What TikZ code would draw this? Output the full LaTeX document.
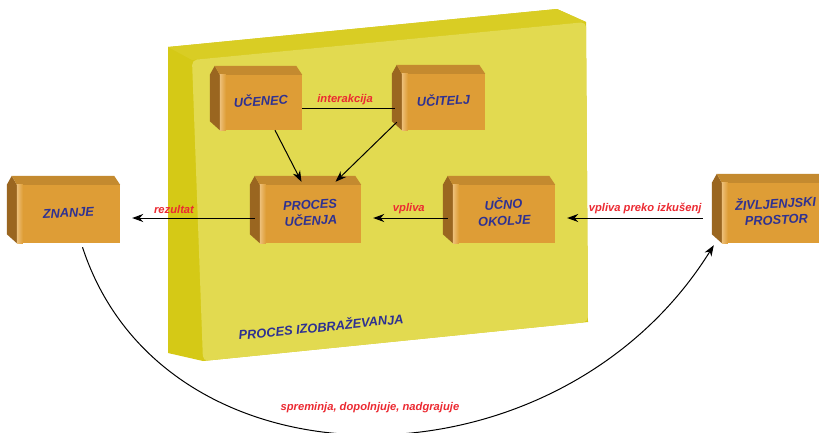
\documentclass[tikz,border=0pt]{standalone}
\usepackage{fontspec}
\setmainfont{Liberation Sans}
\usepackage{graphicx}
\usetikzlibrary{arrows.meta,calc}
\definecolor{slabface}{HTML}{E2DA50}
\definecolor{slabside}{HTML}{D5C916}
\definecolor{slabtop}{HTML}{D9CD24}
\definecolor{brickfront}{HTML}{DE9D36}
\definecolor{bricktop}{HTML}{C48A2F}
\definecolor{brickleft}{HTML}{9A6620}
\definecolor{brickhi}{HTML}{EDC07A}
\definecolor{lblblue}{HTML}{2E3192}
\definecolor{lblred}{HTML}{EC2A32}
\tikzset{
  brick/.style 2 args={fill=brickfront, minimum width=#1, minimum height=#2,
              inner sep=0pt, align=center, text=lblblue,
              font=\fontsize{12.8}{16}\selectfont\bfseries\itshape},
  slablbl/.style={font=\fontsize{12.8}{16}\selectfont\bfseries\itshape,
              text=lblblue, inner sep=0pt},
  elbl/.style={font=\fontsize{11.2}{13}\selectfont\bfseries\itshape,
              text=lblred, inner sep=1pt},
  link/.style={line width=1pt, draw=black},
  arr/.style={-{Stealth[length=11pt,width=8pt,inset=3.5pt]}, line width=1pt,
              draw=black},
}
\newcommand{\tiltlbl}[1]{\rotatebox{3}{\begin{tabular}{@{}c@{}}#1\end{tabular}}}

\begin{document}
\begin{tikzpicture}[x=1pt,y=-1pt]
\fill[white] (0,0) rectangle (819,432);
\useasboundingbox (0,0) rectangle (819,432);

% ---------- the slab ----------------------------------------------------
\fill[slabside] (168,47) -- (557,9) -- (586,22) -- (588,322) -- (203,361)
   -- (168,353) -- cycle;
\fill[slabtop] (168,47) -- (557,9) -- (586,22) -- (192,60) -- cycle;
\fill[slabface, rounded corners=5pt] (192,60) -- (586,22) -- (588,322)
   -- (203,361) -- cycle;
\node[slablbl, rotate=5.7] (izob) at (321,326) {PROCES IZOBRAŽEVANJA};

% ---------- bricks ------------------------------------------------------
\node[brick={82pt}{55pt}] (ucenec) at (261,102.5) {\tiltlbl{UČENEC}};
\node[brick={83pt}{56pt}] (ucitelj) at (443.5,102) {\tiltlbl{UČITELJ}};
\node[brick={101pt}{58pt}] (proces) at (310.5,214) {\tiltlbl{PROCES\\UČENJA}};
\node[brick={102pt}{58pt}] (okolje) at (504,214) {\tiltlbl{UČNO\\OKOLJE}};
\node[brick={103pt}{58pt}] (znanje) at (68.5,214) {\tiltlbl{ZNANJE}};
\node[brick={108pt}{60pt}] (prostor) at (776,213) {\tiltlbl{ŽIVLJENJSKI\\PROSTOR}};

\foreach \n in {ucenec,ucitelj,proces,okolje,znanje,prostor}{
  \fill[brickleft] (\n.north west) -- (\n.south west) -- ++(-10,-9)
     -- ($(\n.north west)+(-10,0)$) -- ($(\n.north west)+(-5,-9)$) -- cycle;
  \fill[bricktop] (\n.north west) -- ($(\n.north west)+(-5,-9)$)
     -- ($(\n.north east)+(-6,-9)$) -- (\n.north east) -- cycle;
  \shade[left color=brickhi, right color=brickfront]
     (\n.north west) rectangle ([xshift=6pt]\n.south west);
}

% ---------- connectors --------------------------------------------------
\draw[link, shorten >=7pt] ([yshift=-5.5pt]ucenec.east) -- ([yshift=-6pt]ucitelj.west)
   node[elbl, pos=0.43, above=2pt] (interakcija) {interakcija};
\draw[arr] ([xshift=14pt]ucenec.south) -- ([xshift=-9pt,yshift=3pt]proces.north);
\draw[arr] ([xshift=-5pt,yshift=8pt]ucitelj.south west) -- ([xshift=25pt,yshift=3pt]proces.north);
\draw[arr, shorten >=12pt] ([xshift=-5pt,yshift=-4pt]okolje.west) -- ([yshift=-4pt]proces.east)
   node[elbl, pos=0.45, above=3pt] (vpliva) {vpliva};
\draw[arr, shorten >=12pt] ([xshift=-5pt,yshift=-4pt]proces.west) -- ([yshift=-4pt]znanje.east)
   node[elbl, pos=0.6, above=3pt] (rezultat) {rezultat};
\draw[arr, shorten <=19pt, shorten >=12pt] ([yshift=-5pt]prostor.west) -- ([yshift=-4pt]okolje.east)
   node[elbl, pos=0.46, above=3pt] (izkusnje) {vpliva preko izkušenj};
\draw[arr] ([xshift=14pt,yshift=-4pt]znanje.south)
   .. controls (164,497) and (557,497) .. ([xshift=-8pt,yshift=-2pt]prostor.south west)
   node[elbl, pos=0.5, above=20pt] (sprem) {spreminja, dopolnjuje, nadgrajuje};
\end{tikzpicture}
\end{document}
